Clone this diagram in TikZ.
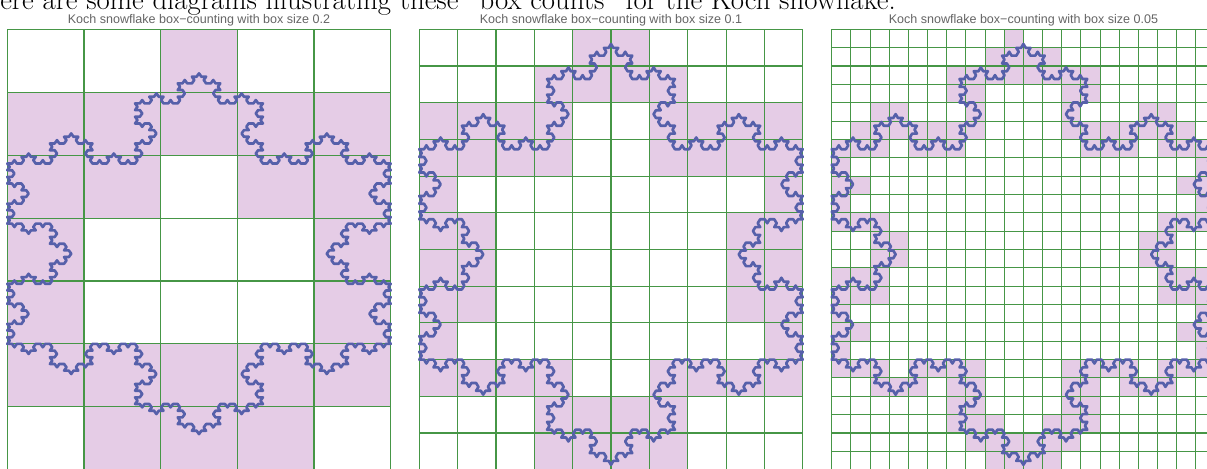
\documentclass[tikz,border=0pt]{standalone}
\usepackage{fontspec}
\usepackage{xcolor}
\usepackage{tikz}
\newfontfamily\titlefont{Liberation Sans}
\definecolor{boxfill}{RGB}{229,204,230}
\definecolor{gridgreen}{RGB}{70,150,70}
\definecolor{flakecolor}{RGB}{86,96,170}
\definecolor{titlegray}{RGB}{100,100,100}

% Koch snowflake (level 4) traced by a turtle, 1 unit = 1000pt (sin 60 taken as 0.86);
% the boxes it meets are collected for box sizes 0.2, 0.1 and 0.05
\makeatletter
\newdimen\kx \newdimen\ky \newdimen\kA \newdimen\kB
\newcount\kdir \newcount\kcol \newcount\krow
\kA=404543sp \kB=695814sp
\def\kochpath{(0,0)}
\def\kcellsa{}\def\kcellsb{}\def\kcellsc{}
\def\kturn#1{\global\advance\kdir by #1\relax
  \ifnum\kdir<0 \global\advance\kdir by 6 \fi
  \ifnum\kdir>5 \global\advance\kdir by -6 \fi}
\def\kmark#1#2{%
  \kcol=\kx \divide\kcol by #2\relax
  \krow=\ky
  \ifnum\krow>0 \advance\krow by -1 \divide\krow by #2\relax
  \else \divide\krow by #2\relax \advance\krow by -1 \fi
  \ifcsname kc#1:\the\kcol:\the\krow\endcsname\else
    \expandafter\gdef\csname kc#1:\the\kcol:\the\krow\endcsname{}%
    \expandafter\ifx\csname kcells#1\endcsname\empty
      \expandafter\xdef\csname kcells#1\endcsname{\the\kcol/\the\krow}%
    \else
      \expandafter\xdef\csname kcells#1\endcsname{\csname kcells#1\endcsname,\the\kcol/\the\krow}%
    \fi
  \fi}
\def\kochmove{%
  \ifcase\kdir \global\advance\kx by 2\kA
  \or \global\advance\kx by \kA \global\advance\ky by \kB
  \or \global\advance\kx by -\kA \global\advance\ky by \kB
  \or \global\advance\kx by -2\kA
  \or \global\advance\kx by -\kA \global\advance\ky by -\kB
  \or \global\advance\kx by \kA \global\advance\ky by -\kB
  \fi
  \xdef\kochpath{\kochpath--(\strip@pt\kx,\strip@pt\ky)}%
  \kmark{a}{13107200}\kmark{b}{6553600}\kmark{c}{3276800}}
\def\kochlevel#1#2{\def#1{#2\kturn{-1}#2\kturn{2}#2\kturn{-1}#2}}
\kochlevel\kochi\kochmove
\kochlevel\kochii\kochi
\kochlevel\kochiii\kochii
\kochlevel\kochiv\kochiii
\kmark{a}{13107200}\kmark{b}{6553600}\kmark{c}{3276800}
\kochiv\kturn{2}\kochiv\kturn{2}\kochiv
\makeatother

\begin{document}
\begin{tikzpicture}[x=0.75pt, y=0.75pt,
    boxcell/.style={fill=boxfill},
    gridline/.style={gridgreen, line width=0.8pt},
    flake/.style={flakecolor, line width=2pt, line join=round},
    paneltitle/.style={font=\titlefont\fontsize{9.4}{11}\selectfont, text=titlegray, anchor=base, inner sep=0pt}]
  \useasboundingbox (0,0) rectangle (1207,468);
  \clip (0,0) rectangle (1207,468);

  % Sentence above the plots (cut off by the page)
  \node[anchor=base west, inner sep=0pt, font=\fontsize{21.6}{26}\selectfont] (intro) at (0,458.5)
    {\llap{H}ere are some diagrams illustrating these ``box counts'' for the Koch snowflake.};

  % The three panels
  \foreach \p/\L/\ys/\ytop/\bs/\nc/\rlo/\rhi/\bsize in
      {a/7.3/0.3146/1000/200/5/-2/5/0.2,
       b/419.3/0.367/900/100/10/-3/9/0.1,
       c/831.7/0.367/900/50/20/-6/18/0.05} {
    \node[paneltitle] (title\p) at (\L+191.7, 444.5) {Koch snowflake box−counting with box size \bsize};
    \begin{scope}[shift={(\L, 438.7-\ys*\ytop)}, xscale=0.3834, yscale=\ys]
      % Boxes met by the curve
      \edef\cellsnow{\csname kcells\p\endcsname}
      \foreach \i/\j in \cellsnow
        \fill[boxcell] (\i*\bs, \j*\bs) rectangle ++(\bs, \bs);
      % Grid
      \foreach \g in {0,...,\nc}
        \draw[gridline] (\g*\bs, \rlo*\bs) -- (\g*\bs, \rhi*\bs);
      \foreach \g in {\rlo,...,\rhi}
        \draw[gridline] (0, \g*\bs) -- (1000, \g*\bs);
      % Snowflake
      \draw[flake] \kochpath -- cycle;
    \end{scope}
  }
\end{tikzpicture}
\end{document}
